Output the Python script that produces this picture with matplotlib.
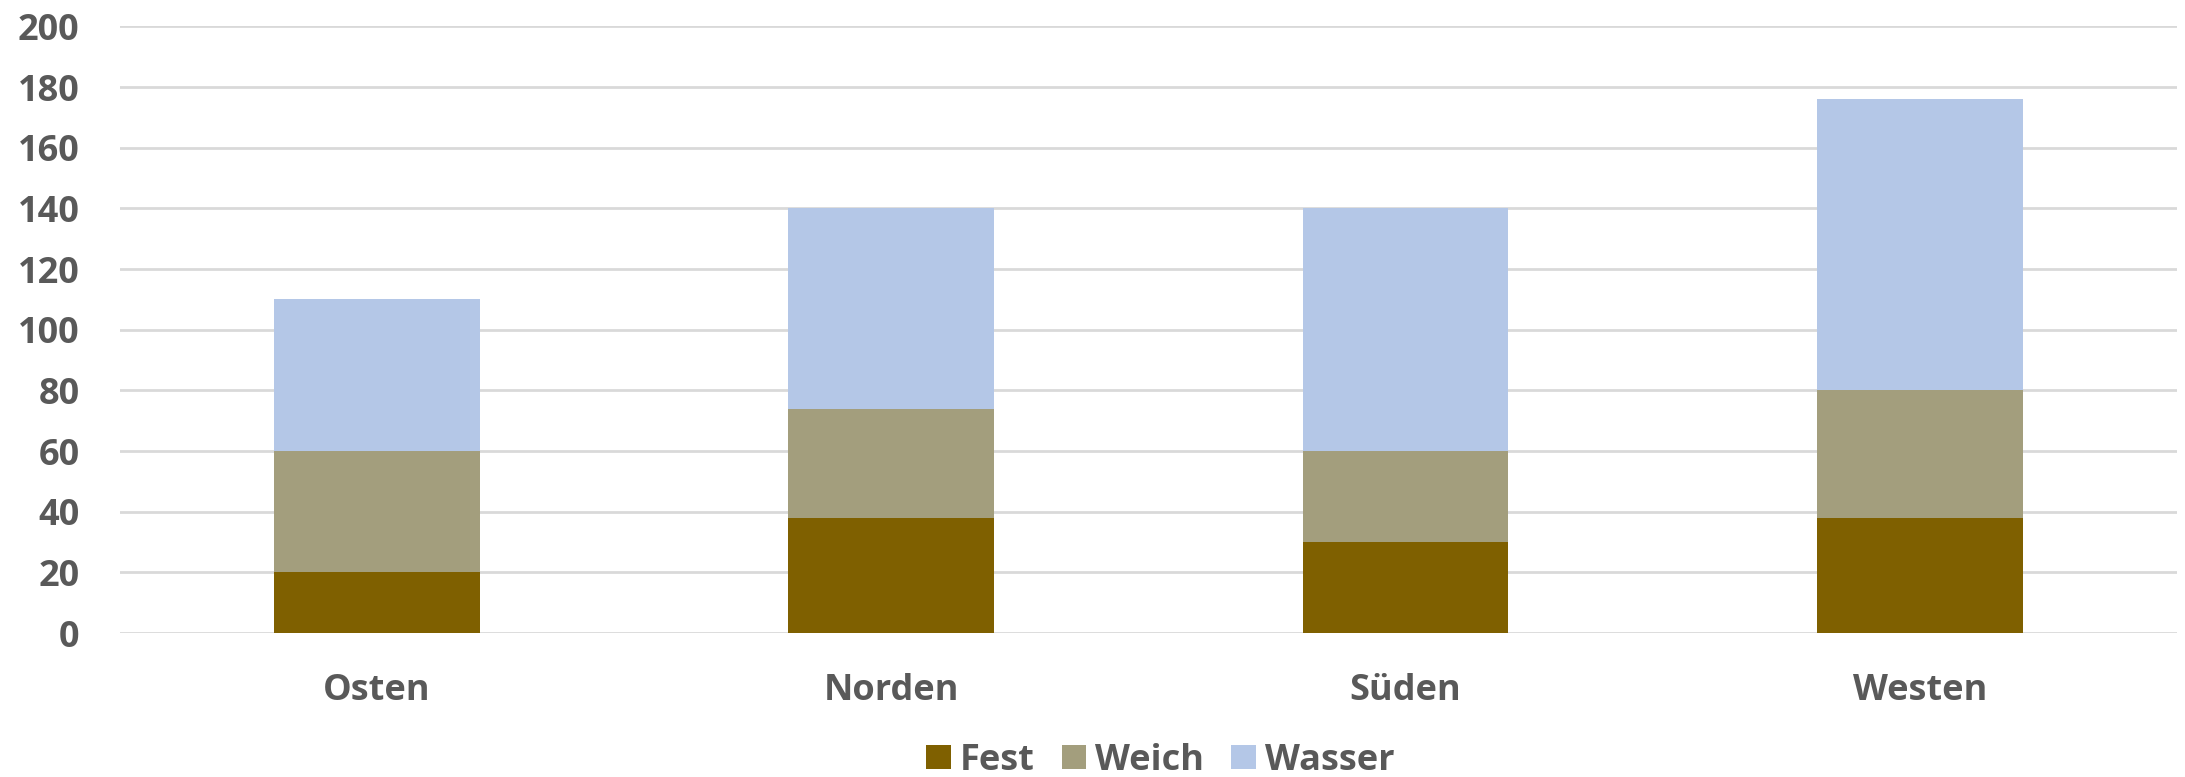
from matplotlib import pyplot as plt
import numpy as np

plt.rcParams['font.family'] = ['Open Sans', 'DejaVu Sans']
plt.rcParams['font.weight'] = 'bold'

# Himmelsrichtungen und gestapelte Anteile
regionen = ["Osten", "Norden", "Süden", "Westen"]
fest = [20, 38, 30, 38]
weich = [40, 36, 30, 42]
wasser = [50, 66, 80, 96]
y_ticks = [0, 20, 40, 60, 80, 100, 120, 140, 160, 180, 200]

farben = {"Fest": "#7F6000", "Weich": "#A39E7D", "Wasser": "#B4C7E7"}
text_farbe = "#595959"

fig = plt.figure(figsize=(21.85, 7.77), dpi=100)
ax = fig.add_axes([0.0549, 0.1853, 0.9414, 0.7807])

x = np.arange(len(regionen))
breite = 0.4
unten = np.zeros(len(regionen))
for name, werte in [("Fest", fest), ("Weich", weich), ("Wasser", wasser)]:
    ax.bar(x, werte, breite, bottom=unten, color=farben[name], label=name,
           zorder=3)
    unten += np.array(werte)

ax.set_xlim(-0.5, len(regionen) - 0.5)
ax.set_ylim(0, 200)
ax.set_yticks(y_ticks)
ax.set_xticks(x)
ax.set_xticklabels(regionen)

# nur horizontale Gitterlinien, keine Achsenlinien
ax.grid(axis='y', color='#D9D9D9', linewidth=2, zorder=0)
ax.grid(axis='x', visible=False)
for s in ax.spines.values():
    s.set_visible(False)

ax.tick_params(axis='y', length=0, pad=29, labelsize=26, labelcolor=text_farbe)
ax.tick_params(axis='x', length=0, pad=29, labelsize=26, labelcolor=text_farbe)

fig.legend(loc='center', bbox_to_anchor=(0.531, 0.021), ncol=3, frameon=False,
           fontsize=26, labelcolor=text_farbe, handlelength=0.68,
           handleheight=0.68, handletextpad=0.25, columnspacing=0.75,
           borderpad=0.1)

plt.savefig("out.png", dpi=100)
